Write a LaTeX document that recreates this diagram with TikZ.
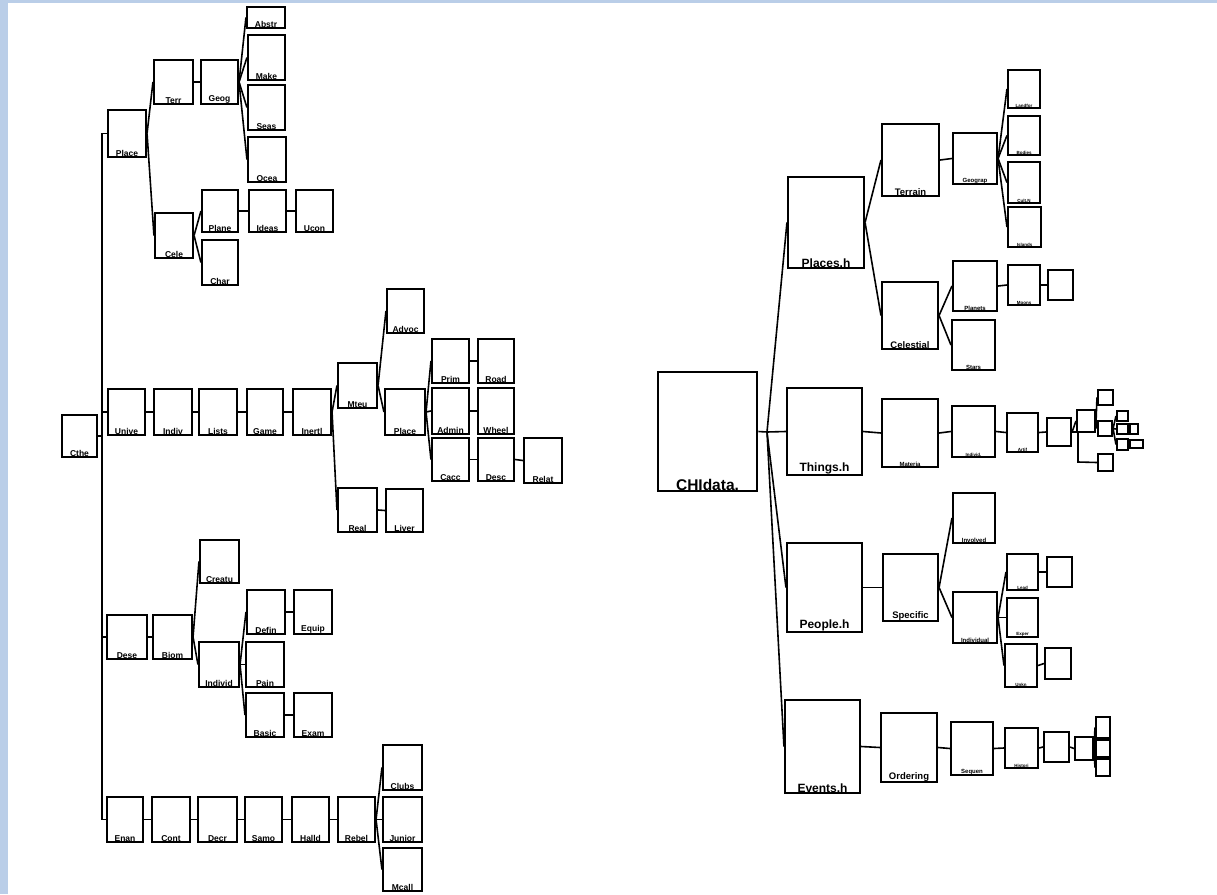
\documentclass[tikz,border=0pt]{standalone}
\usepackage{fontspec}
\setmainfont{Liberation Sans}
\usetikzlibrary{fit}
\definecolor{edgeblue}{RGB}{186,206,232}
\tikzset{
  box/.style={draw=black, line width=2.1pt, inner sep=0pt, fill=white},
  bigbox/.style={box, line width=2.8pt},
  conn/.style={draw=black, line width=1.6pt},
  lbl/.style={anchor=south, inner sep=1.2pt, font=\fontsize{8.5}{9}\selectfont\bfseries},
  lblB/.style={anchor=south, inner sep=1.5pt, font=\fontsize{12}{13}\selectfont\bfseries},
  lblC/.style={anchor=south, inner sep=1.2pt, font=\fontsize{9.5}{10}\selectfont\bfseries},
  lblD/.style={anchor=south, inner sep=1pt, font=\fontsize{6}{6.5}\selectfont\bfseries},
  lblE/.style={anchor=south, inner sep=1pt, font=\fontsize{4.5}{5}\selectfont\bfseries},
  lblRoot/.style={anchor=south, inner sep=2pt, font=\fontsize{15.5}{16}\selectfont\bfseries},
}
\newcommand\mybox[7][lbl]{\node[box, fit={(#3,#4) (#5,#6)}, label={[#1]south:#7}] (#2) {};}
\newcommand\mybigbox[7][lbl]{\node[bigbox, fit={(#3,#4) (#5,#6)}, label={[#1]south:#7}] (#2) {};}
\begin{document}
\begin{tikzpicture}[x=1pt,y=-1pt]
\useasboundingbox (0,0) rectangle (1217,894);
\fill[white] (0,0) rectangle (1217,894);
\fill[edgeblue] (0,0) rectangle (8,894);
\fill[edgeblue] (0,0) rectangle (1217,3);

% ---------------- left tree ----------------
\mybox{c0}{62}{415}{97}{457}{Cthe}
\coordinate (jL) at (102,436);
% branch 1
\mybox{p1}{108}{110}{146}{157}{Place}
\mybox{p1a}{154}{60}{193}{104}{Terr}
\mybox{p1aa}{201}{60}{238}{104}{Geog}
\mybox{p1aaA}{247}{7}{285}{28}{Abstr}
\mybox{p1aaB}{248}{35}{285}{80}{Make}
\mybox{p1aaC}{248}{85}{285}{130}{Seas}
\mybox{p1aaD}{248}{137}{286}{182}{Ocea}
\mybox{p1b}{155}{213}{193}{258}{Cele}
\mybox{p1ba}{202}{190}{238}{232}{Plane}
\mybox{p1bb}{202}{240}{238}{285}{Char}
\mybox{p1baa}{249}{190}{286}{232}{Ideas}
\mybox{p1bab}{296}{190}{333}{232}{Ucon}
% branch 2
\mybox{p2}{108}{389}{145}{435}{Unive}
\mybox{p2a}{154}{389}{192}{435}{Indiv}
\mybox{p2b}{199}{389}{237}{435}{Lists}
\mybox{p2c}{247}{389}{283}{435}{Game}
\mybox{p2d}{293}{389}{331}{435}{Inertl}
\mybox{p2e}{338}{363}{377}{408}{Mteu}
\mybox{p2ea}{387}{289}{424}{333}{Advoc}
\mybox{p2eb}{385}{389}{425}{435}{Place}
\mybox{p2ebA}{432}{339}{469}{383}{Prim}
\mybox{p2ebAa}{478}{339}{514}{383}{Road}
\mybox{p2ebB}{432}{388}{469}{434}{Admin}
\mybox{p2ebBa}{478}{388}{514}{434}{Wheel}
\mybox{p2ebC}{432}{438}{469}{481}{Cacc}
\mybox{p2ebCa}{478}{438}{514}{481}{Desc}
\mybox{p2ebCb}{524}{438}{562}{483}{Relat}
\mybox{p2f}{338}{488}{377}{532}{Real}
\mybox{p2fa}{386}{489}{423}{532}{Liver}
% branch 3
\mybox{p3}{107}{615}{147}{659}{Dese}
\mybox{p3a}{153}{615}{192}{659}{Biom}
\mybox{p3aA}{200}{540}{239}{583}{Creatu}
\mybox{p3aB}{199}{642}{239}{687}{Individ}
\mybox{p3aBa}{247}{590}{285}{634}{Defin}
\mybox{p3aBaa}{294}{590}{332}{634}{Equip}
\mybox{p3aBb}{246}{642}{284}{687}{Pain}
\mybox{p3aBc}{246}{693}{284}{737}{Basic}
\mybox{p3aBca}{294}{693}{332}{737}{Exam}
% branch 4
\mybox{p4}{107}{797}{143}{842}{Enan}
\mybox{p4a}{152}{797}{190}{842}{Cont}
\mybox{p4b}{198}{797}{237}{842}{Decr}
\mybox{p4c}{245}{797}{282}{842}{Samo}
\mybox{p4d}{292}{797}{329}{842}{Halld}
\mybox{p4e}{338}{797}{375}{842}{Rebel}
\mybox{p4eA}{383}{745}{422}{790}{Clubs}
\mybox{p4eB}{383}{797}{422}{842}{Junior}
\mybox{p4eC}{383}{848}{422}{891}{Mcall}

% left connectors
\draw[conn] (c0.east) -- (jL);
\foreach \c in {p1,p2,p3,p4} \draw[conn] (jL) |- (\c.west);
\draw[conn] (p1.east) -- (p1a.west);
\draw[conn] (p1.east) -- (p1b.west);
\draw[conn] (p1a.east) -- (p1aa.west);
\foreach \c in {p1aaA,p1aaB,p1aaC,p1aaD} \draw[conn] (p1aa.east) -- (\c.west);
\draw[conn] (p1b.east) -- (p1ba.west);
\draw[conn] (p1b.east) -- (p1bb.west);
\draw[conn] (p1ba.east) -- (p1baa.west);
\draw[conn] (p1baa.east) -- (p1bab.west);
\draw[conn] (p2.east) -- (p2a.west);
\draw[conn] (p2a.east) -- (p2b.west);
\draw[conn] (p2b.east) -- (p2c.west);
\draw[conn] (p2c.east) -- (p2d.west);
\draw[conn] (p2d.east) -- (p2e.west);
\draw[conn] (p2d.east) -- (p2f.west);
\draw[conn] (p2e.east) -- (p2ea.west);
\draw[conn] (p2e.east) -- (p2eb.west);
\foreach \c in {p2ebA,p2ebB,p2ebC} \draw[conn] (p2eb.east) -- (\c.west);
\draw[conn] (p2ebA.east) -- (p2ebAa.west);
\draw[conn] (p2ebB.east) -- (p2ebBa.west);
\draw[conn] (p2ebC.east) -- (p2ebCa.west);
\draw[conn] (p2ebCa.east) -- (p2ebCb.west);
\draw[conn] (p2f.east) -- (p2fa.west);
\draw[conn] (p3.east) -- (p3a.west);
\draw[conn] (p3a.east) -- (p3aA.west);
\draw[conn] (p3a.east) -- (p3aB.west);
\foreach \c in {p3aBa,p3aBb,p3aBc} \draw[conn] (p3aB.east) -- (\c.west);
\draw[conn] (p3aBa.east) -- (p3aBaa.west);
\draw[conn] (p3aBc.east) -- (p3aBca.west);
\draw[conn] (p4.east) -- (p4a.west);
\draw[conn] (p4a.east) -- (p4b.west);
\draw[conn] (p4b.east) -- (p4c.west);
\draw[conn] (p4c.east) -- (p4d.west);
\draw[conn] (p4d.east) -- (p4e.west);
\foreach \c in {p4eA,p4eB,p4eC} \draw[conn] (p4e.east) -- (\c.west);

% ---------------- right tree ----------------
\mybigbox[lblRoot]{r0}{658}{372}{757}{491}{CHIdata.}
\coordinate (jR) at (767,432);
\mybox[lblB]{r1}{788}{177}{864}{268}{Places.h}
\mybox[lblB]{r2}{787}{388}{862}{475}{Things.h}
\mybox[lblB]{r3}{787}{543}{862}{632}{People.h}
\mybox[lblB]{r4}{785}{700}{860}{793}{Events.h}
% places
\mybox[lblC]{r1a}{882}{124}{939}{196}{Terrain}
\mybox[lblC]{r1b}{882}{282}{938}{349}{Celestial}
\mybox[lblD]{r1a1}{953}{133}{997}{184}{Geograp}
\mybox[lblE]{r1a1a}{1008}{70}{1040}{108}{Landfor}
\mybox[lblE]{r1a1b}{1008}{116}{1040}{155}{Bodies}
\mybox[lblE]{r1a1c}{1008}{162}{1040}{203}{Cult.N}
\mybox[lblE]{r1a1d}{1008}{207}{1041}{247}{Islands}
\mybox[lblD]{r1b1}{953}{261}{997}{311}{Planets}
\mybox[lblD]{r1b2}{952}{320}{995}{370}{Stars}
\mybox[lblE]{r1b1a}{1008}{265}{1040}{305}{Moons}
\mybox[lblE]{r1b1b}{1048}{270}{1073}{300}{}
% things
\mybox[lblD]{r2a}{882}{399}{938}{467}{Materia}
\mybox[lblE]{r2b}{952}{406}{995}{457}{Individ.}
\mybox[lblE]{r2c}{1007}{413}{1038}{452}{Artif}
\mybox[lblE]{r2d}{1047}{418}{1071}{446}{}
\mybox[lblE]{r2e1}{1077}{410}{1095}{432}{}
\mybox[lblE]{r2e2}{1098}{454}{1113}{471}{}
\mybox[lblE]{r2f1}{1098}{390}{1113}{405}{}
\mybox[lblE]{r2f2}{1098}{421}{1112}{436}{}
\mybox[lblE]{r2g1}{1117}{411}{1128}{421}{}
\mybox[lblE]{r2g2}{1117}{424}{1128}{434}{}
\mybox[lblE]{r2g3}{1130}{424}{1138}{434}{}
\mybox[lblE]{r2g4}{1117}{439}{1128}{450}{}
\mybox[lblE]{r2g5}{1130}{440}{1143}{448}{}
% people
\mybox[lblC]{r3a}{883}{554}{938}{621}{Specific}
\mybox[lblD]{r3a1}{953}{493}{995}{543}{Involved}
\mybox[lblD]{r3a2}{953}{592}{997}{643}{Individual}
\mybox[lblE]{r3a2a}{1007}{554}{1038}{590}{Lead}
\mybox[lblE]{r3a2b}{1007}{598}{1038}{637}{Exper}
\mybox[lblE]{r3a2c}{1005}{644}{1037}{687}{Unkn}
\mybox[lblE]{r3a2a1}{1047}{557}{1072}{587}{}
\mybox[lblE]{r3a2c1}{1045}{648}{1071}{679}{}
% events
\mybox[lblC]{r4a}{881}{713}{937}{782}{Ordering}
\mybox[lblD]{r4b}{951}{722}{993}{775}{Sequen}
\mybox[lblE]{r4c}{1005}{728}{1038}{768}{Histori}
\mybox[lblE]{r4d}{1044}{732}{1069}{762}{}
\mybox[lblE]{r4e}{1075}{737}{1093}{760}{}
\mybox[lblE]{r4f1}{1096}{717}{1110}{738}{}
\mybox[lblE]{r4f2}{1096}{740}{1110}{757}{}
\mybox[lblE]{r4f3}{1096}{759}{1110}{776}{}

% right connectors
\draw[conn] (r0.east) -- (jR);
\foreach \c in {r1,r2,r3,r4} \draw[conn] (jR) -- (\c.west);
\draw[conn] (r1.east) -- (r1a.west);
\draw[conn] (r1.east) -- (r1b.west);
\draw[conn] (r1a.east) -- (r1a1.west);
\foreach \c in {r1a1a,r1a1b,r1a1c,r1a1d} \draw[conn] (r1a1.east) -- (\c.west);
\draw[conn] (r1b.east) -- (r1b1.west);
\draw[conn] (r1b.east) -- (r1b2.west);
\draw[conn] (r1b1.east) -- (r1b1a.west);
\draw[conn] (r1b1a.east) -- (r1b1b.west);
\draw[conn] (r2.east) -- (r2a.west);
\draw[conn] (r2a.east) -- (r2b.west);
\draw[conn] (r2b.east) -- (r2c.west);
\draw[conn] (r2c.east) -- (r2d.west);
\draw[conn] (r2d.east) -- (r2e1.west);
\draw[conn] (r2d.east) -| (1078,462) -- (r2e2.west);
\draw[conn] (r2e1.east) -- (r2f1.west);
\draw[conn] (r2e1.east) -- (r2f2.west);
\draw[conn] (r2f2.east) -- (r2g1.west);
\draw[conn] (r2f2.east) -- (r2g2.west);
\draw[conn] (r2g2.east) -- (r2g3.west);
\draw[conn] (r2f2.east) -- (r2g4.west);
\draw[conn] (r2g4.east) -- (r2g5.west);
\draw[conn] (r3.east) -- (r3a.west);
\draw[conn] (r3a.east) -- (r3a1.west);
\draw[conn] (r3a.east) -- (r3a2.west);
\foreach \c in {r3a2a,r3a2b,r3a2c} \draw[conn] (r3a2.east) -- (\c.west);
\draw[conn] (r3a2a.east) -- (r3a2a1.west);
\draw[conn] (r3a2c.east) -- (r3a2c1.west);
\draw[conn] (r4.east) -- (r4a.west);
\draw[conn] (r4a.east) -- (r4b.west);
\draw[conn] (r4b.east) -- (r4c.west);
\draw[conn] (r4c.east) -- (r4d.west);
\draw[conn] (r4d.east) -- (r4e.west);
\foreach \c in {r4f1,r4f2,r4f3} \draw[conn] (r4e.east) -- (\c.west);
\end{tikzpicture}
\end{document}
